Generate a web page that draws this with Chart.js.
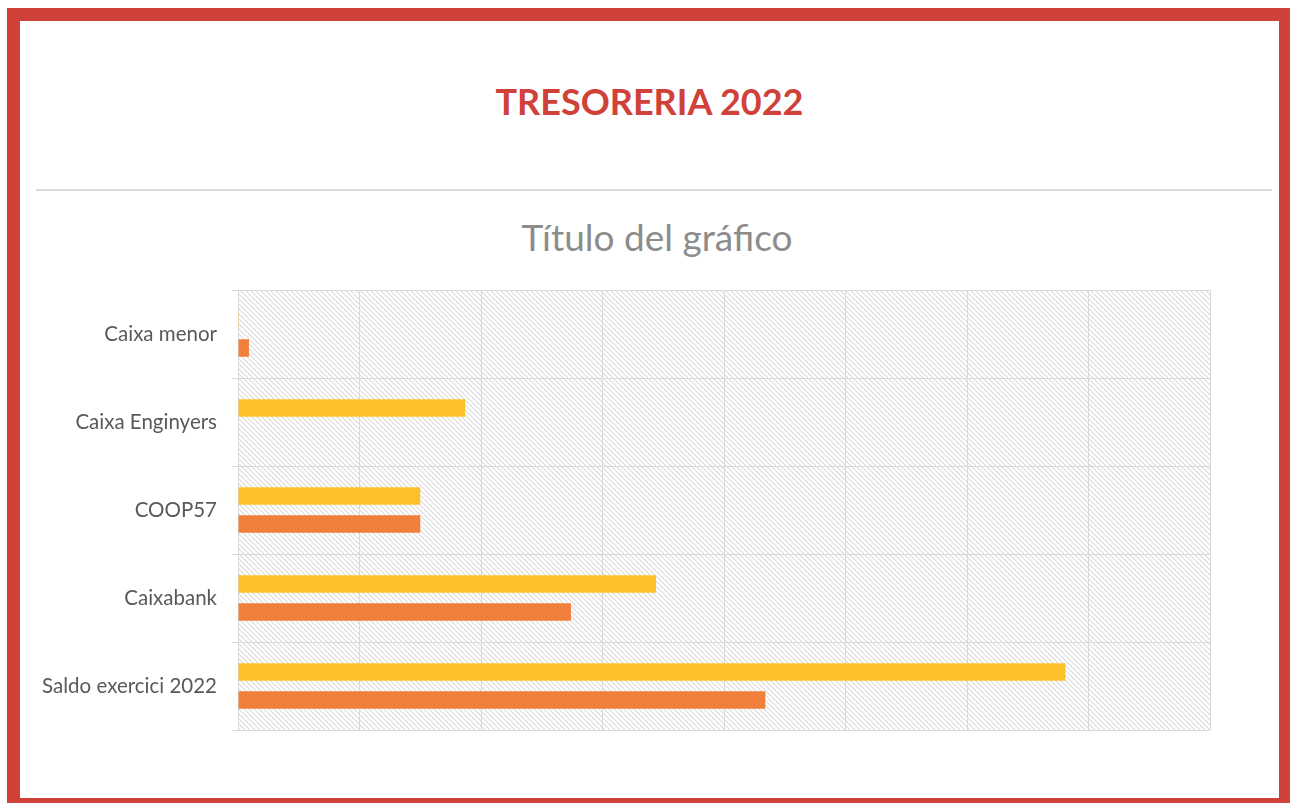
<!DOCTYPE html>
<html>
<head>
<meta charset="utf-8">
<script src="https://cdn.jsdelivr.net/npm/chart.js@4/dist/chart.umd.min.js"></script>
<style>
    html, body { margin: 0; padding: 0; background: #fff; overflow: hidden; }
    body { width: 1290px; height: 803px; position: relative; }
    .frame {
        position: absolute; left: 7px; top: 8px;
        width: 1259px; height: 777px;
        border: 13px solid #d0413a;
    }
    .heading {
        position: absolute; left: 20px; width: 1259px; top: 79px;
        text-align: center; font-family: Lato, sans-serif; font-weight: 700;
        font-size: 36px; color: #d0413a;
    }
    .rule {
        position: absolute; left: 36px; width: 1236px; top: 189px;
        height: 2px; background: #dcdcdc;
    }
    .subtitle {
        position: absolute; left: 104px; width: 1106px; top: 215px;
        height: 44px; line-height: 44px; text-align: center;
        font-family: Lato, sans-serif; font-size: 37px; color: #8c8c8c;
    }
    .wrap { position: absolute; left: 20px; top: 200px; width: 1259px; height: 598px; }
</style>
</head>
<body>
<div class="frame"></div>
<div class="heading">TRESORERIA 2022</div>
<div class="rule"></div>
<div class="subtitle">Título del gráfico</div>
<div class="wrap"><canvas id="myChart" width="1259" height="598"></canvas></div>
<script>
const categories = ['Caixa menor', 'Caixa Enginyers', 'COOP57', 'Caixabank', 'Saldo exercici 2022'];
const serieGroc = [60, 18700, 15000, 34400, 68100];
const serieTaronja = [900, 0, 15000, 27400, 43400];
const xTicks = [0, 10000, 20000, 30000, 40000, 50000, 60000, 70000, 80000];

// diagonal hatch pattern for the plot area
const makeHatch = () => {
    const s = 5;
    const c = document.createElement('canvas');
    c.width = s;
    c.height = s;
    const g = c.getContext('2d');
    g.fillStyle = '#ffffff';
    g.fillRect(0, 0, s, s);
    g.strokeStyle = '#dadada';
    g.lineWidth = 1.1;
    g.beginPath();
    g.moveTo(-1, -1); g.lineTo(s + 1, s + 1);
    g.moveTo(-1, s - 1); g.lineTo(1, s + 1);
    g.moveTo(s - 1, -1); g.lineTo(s + 1, 1);
    g.stroke();
    return g.createPattern(c, 'repeat');
}

const hatchPlugin = {
    id: 'hatch',
    beforeDraw: (chart) => {
        const {ctx, chartArea} = chart;
        ctx.save();
        ctx.fillStyle = makeHatch();
        ctx.fillRect(chartArea.left, chartArea.top, chartArea.right - chartArea.left, chartArea.bottom - chartArea.top);
        ctx.restore();
    }
}

const ctx = document.getElementById('myChart');
const myChart = new Chart(ctx, {
    type: 'bar',
    data: {
        labels: categories,
        datasets: [{
                label: 'Groc',
                data: serieGroc,
                backgroundColor: '#fcc12a',
                categoryPercentage: 0.636,
                barPercentage: 0.625
            }, {
                label: 'Taronja',
                data: serieTaronja,
                backgroundColor: '#ef7f3b',
                categoryPercentage: 0.636,
                barPercentage: 0.625
            }]
    },
    options: {
        indexAxis: 'y',
        responsive: false,
        animation: false,
        layout: {
            padding: {left: 0, right: 69, top: 90, bottom: 68}
        },
        plugins: {
            legend: {display: false},
            tooltip: {enabled: false},
            title: {display: false}
        },
        scales: {
            x: {
                min: 0,
                max: 80000,
                afterBuildTicks: (scale) => {
                    scale.ticks = xTicks.map(v => ({value: v}));
                },
                ticks: {display: false},
                grid: {color: '#d9d9d9', lineWidth: 1, drawTicks: false},
                border: {display: false},
                afterFit: (scale) => { scale.height = 0; }
            },
            y: {
                ticks: {
                    color: '#595959',
                    font: {family: 'Lato', size: 20.5},
                    padding: 15
                },
                grid: {color: '#d9d9d9', lineWidth: 1, tickLength: 6, offset: true},
                border: {display: false},
                afterFit: (scale) => { scale.width = 218; }
            }
        }
    },
    plugins: [hatchPlugin]
});
</script>
</body>
</html>
